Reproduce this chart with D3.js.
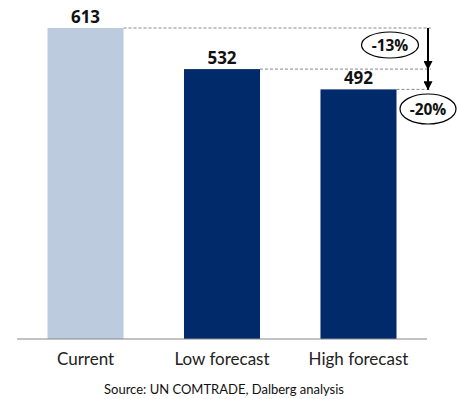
<!DOCTYPE html>
<html>
<head>
<meta charset="utf-8">
<script src="https://cdn.jsdelivr.net/npm/d3@7"></script>
<style>
  body { margin: 0; background: #fff; }
  svg { display: block; }
</style>
</head>
<body>
<script>
// Chart data
var categories = ["Current", "Low forecast", "High forecast"];
var values = [613, 532, 492];
var changeLabels = ["-13%", "-20%"];
var sourceText = "Source: UN COMTRADE, Dalberg analysis";

var svgWidth = 461;
var svgHeight = 399;

var svg = d3.select("body")
  .append("svg")
  .attr("width", svgWidth)
  .attr("height", svgHeight);

// Scales
var xScale = d3.scaleBand()
  .domain(categories)
  .range([17, 427])
  .paddingInner(0.443)
  .paddingOuter(0.2235);

var yScale = d3.scaleLinear()
  .domain([0, 613])
  .range([339, 28]);

var colors = ["#bccbde", "#012a6a", "#012a6a"];

// Dashed guide lines from bar tops to the arrow
var arrowX = 428;
svg.selectAll(".guide")
  .data(values)
  .enter()
  .append("line")
  .attr("x1", (d, i) => xScale(categories[i]) + xScale.bandwidth())
  .attr("x2", arrowX + 3)
  .attr("y1", d => yScale(d))
  .attr("y2", d => yScale(d))
  .attr("stroke", "#888")
  .attr("stroke-width", 1)
  .attr("stroke-dasharray", "3,2");

// Bars
svg.selectAll(".bar")
  .data(values)
  .enter()
  .append("rect")
  .attr("x", (d, i) => xScale(categories[i]))
  .attr("y", d => yScale(d))
  .attr("width", xScale.bandwidth())
  .attr("height", d => yScale(0) - yScale(d))
  .attr("fill", (d, i) => colors[i]);

// Value labels
svg.selectAll(".val")
  .data(values)
  .enter()
  .append("text")
  .attr("x", (d, i) => xScale(categories[i]) + xScale.bandwidth() / 2)
  .attr("y", d => yScale(d) - 5)
  .attr("text-anchor", "middle")
  .attr("font-family", "Open Sans, sans-serif")
  .attr("font-weight", "bold")
  .attr("font-size", "17px")
  .attr("fill", "#111")
  .text(d => d);

// Baseline axis
var xAxis = d3.axisBottom(xScale).tickSize(0).tickPadding(14);
var axisG = svg.append("g")
  .attr("transform", "translate(0," + yScale(0) + ")")
  .call(xAxis);
axisG.select(".domain")
  .attr("d", "M17,0H427")
  .attr("stroke", "#888")
  .attr("stroke-width", 1.2);
axisG.selectAll("text")
  .attr("font-family", "Lato, sans-serif")
  .attr("font-size", "17px")
  .attr("fill", "#222");

// Arrows
var defs = svg.append("defs");
defs.append("marker")
  .attr("id", "arrow")
  .attr("viewBox", "0 0 10 10")
  .attr("refX", 9)
  .attr("refY", 5)
  .attr("markerWidth", 4.5)
  .attr("markerHeight", 4.5)
  .attr("orient", "auto")
  .append("path")
  .attr("d", "M0,0L10,5L0,10Z")
  .attr("fill", "#000");

var arrowPairs = [[values[0], values[1]], [values[1], values[2]]];
svg.selectAll(".arrow")
  .data(arrowPairs)
  .enter()
  .append("line")
  .attr("x1", arrowX)
  .attr("x2", arrowX)
  .attr("y1", d => yScale(d[0]))
  .attr("y2", d => yScale(d[1]))
  .attr("stroke", "#000")
  .attr("stroke-width", 2)
  .attr("marker-end", "url(#arrow)");

// Change ellipses
var bubbles = [
  { cx: 390, cy: 45, rx: 28.5, ry: 13 },
  { cx: 428, cy: 109, rx: 28, ry: 15 }
];
var bub = svg.selectAll(".bub")
  .data(bubbles)
  .enter()
  .append("g");
bub.append("ellipse")
  .attr("cx", d => d.cx)
  .attr("cy", d => d.cy)
  .attr("rx", d => d.rx)
  .attr("ry", d => d.ry)
  .attr("fill", "#fff")
  .attr("stroke", "#000")
  .attr("stroke-width", 1.2);
bub.append("text")
  .attr("x", d => d.cx)
  .attr("y", d => d.cy + 6)
  .attr("text-anchor", "middle")
  .attr("font-family", "Open Sans, sans-serif")
  .attr("font-weight", "bold")
  .attr("font-size", "15.5px")
  .attr("fill", "#111")
  .text((d, i) => changeLabels[i]);

// Source note
svg.append("text")
  .attr("x", 224)
  .attr("y", 394)
  .attr("text-anchor", "middle")
  .attr("font-family", "Lato, sans-serif")
  .attr("font-size", "13px")
  .attr("fill", "#111")
  .text(sourceText);
</script>
</body>
</html>
